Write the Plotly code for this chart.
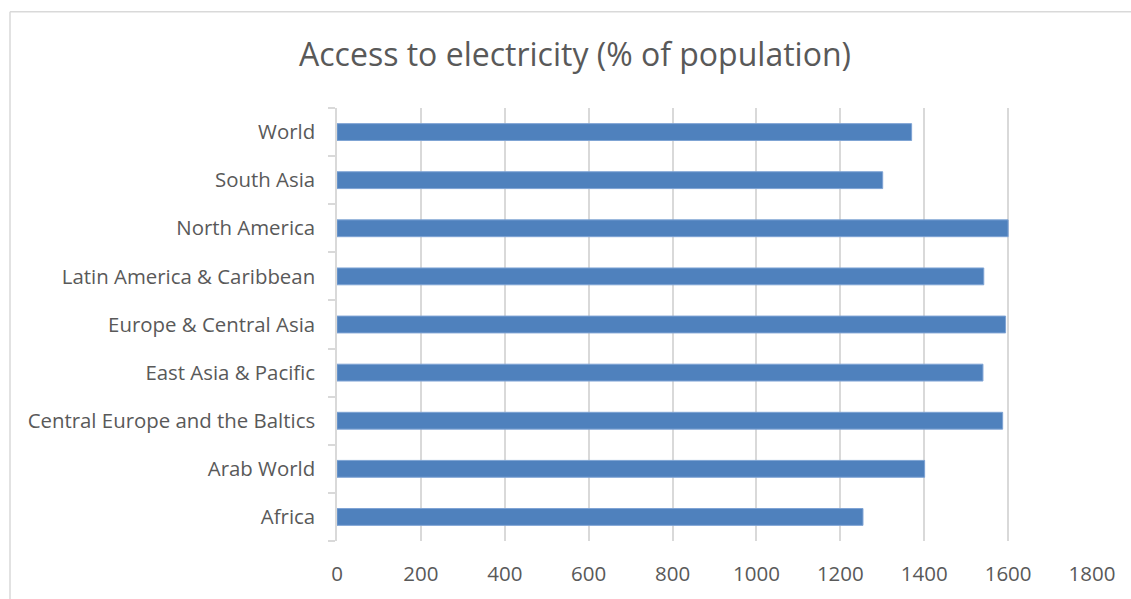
import plotly.graph_objects as go

categories = ["Africa", "Arab World", "Central Europe and the Baltics", "East Asia & Pacific",
              "Europe & Central Asia", "Latin America & Caribbean", "North America",
              "South Asia", "World"]
values = [1254, 1401, 1587, 1540, 1594, 1542, 1600, 1301, 1370]
x_ticks = [0, 200, 400, 600, 800, 1000, 1200, 1400, 1600, 1800]

W, H = 1131, 599
L, R, T, B = 337, 39, 108, 55

fig = go.Figure(go.Bar(
    y=categories, x=values, orientation="h",
    marker=dict(color="#4f81bd", line=dict(color="#7ea3d4", width=1)),
    width=0.35,
))

fig.update_layout(
    width=W, height=H,
    margin=dict(l=L, r=R, t=T, b=B),
    paper_bgcolor="white", plot_bgcolor="white",
    showlegend=False,
    title=dict(text="Access to electricity (% of population)",
               x=575 / W, xref="container", xanchor="center",
               y=1 - 55 / H, yref="container", yanchor="middle",
               font=dict(family="Open Sans", size=32, color="#595959")),
    font=dict(family="Open Sans", color="#595959"),
    shapes=[
        dict(type="line", xref="paper", yref="paper",
             x0=(10 - L) / (W - L - R), x1=(W + 20 - L) / (W - L - R),
             y0=(H - B - 11) / (H - T - B), y1=(H - B - 11) / (H - T - B),
             line=dict(color="#d9d9d9", width=1.5)),
        dict(type="line", xref="paper", yref="paper",
             x0=(10 - L) / (W - L - R), x1=(10 - L) / (W - L - R),
             y0=(H - B - 11) / (H - T - B), y1=-1,
             line=dict(color="#d9d9d9", width=1.5)),
    ],
)

fig.update_xaxes(
    range=[0, 1800], tickvals=x_ticks, ticktext=[str(v) for v in x_ticks],
    showgrid=True, gridcolor="#d9d9d9", gridwidth=1.5,
    zeroline=False, showline=False, ticks="",
    tickfont=dict(family="Open Sans", size=20.5, color="#595959"),
    ticklabelstandoff=18,
)
fig.update_yaxes(
    categoryorder="array", categoryarray=categories,
    showline=True, linecolor="#d9d9d9", linewidth=1.5,
    ticks="outside", tickson="boundaries", ticklen=7, tickcolor="#d9d9d9", tickwidth=1.5,
    showgrid=False, zeroline=False,
    tickfont=dict(family="Open Sans", size=20.4, color="#595959"),
    ticklabelstandoff=16,
)

fig.write_html("out.html")
